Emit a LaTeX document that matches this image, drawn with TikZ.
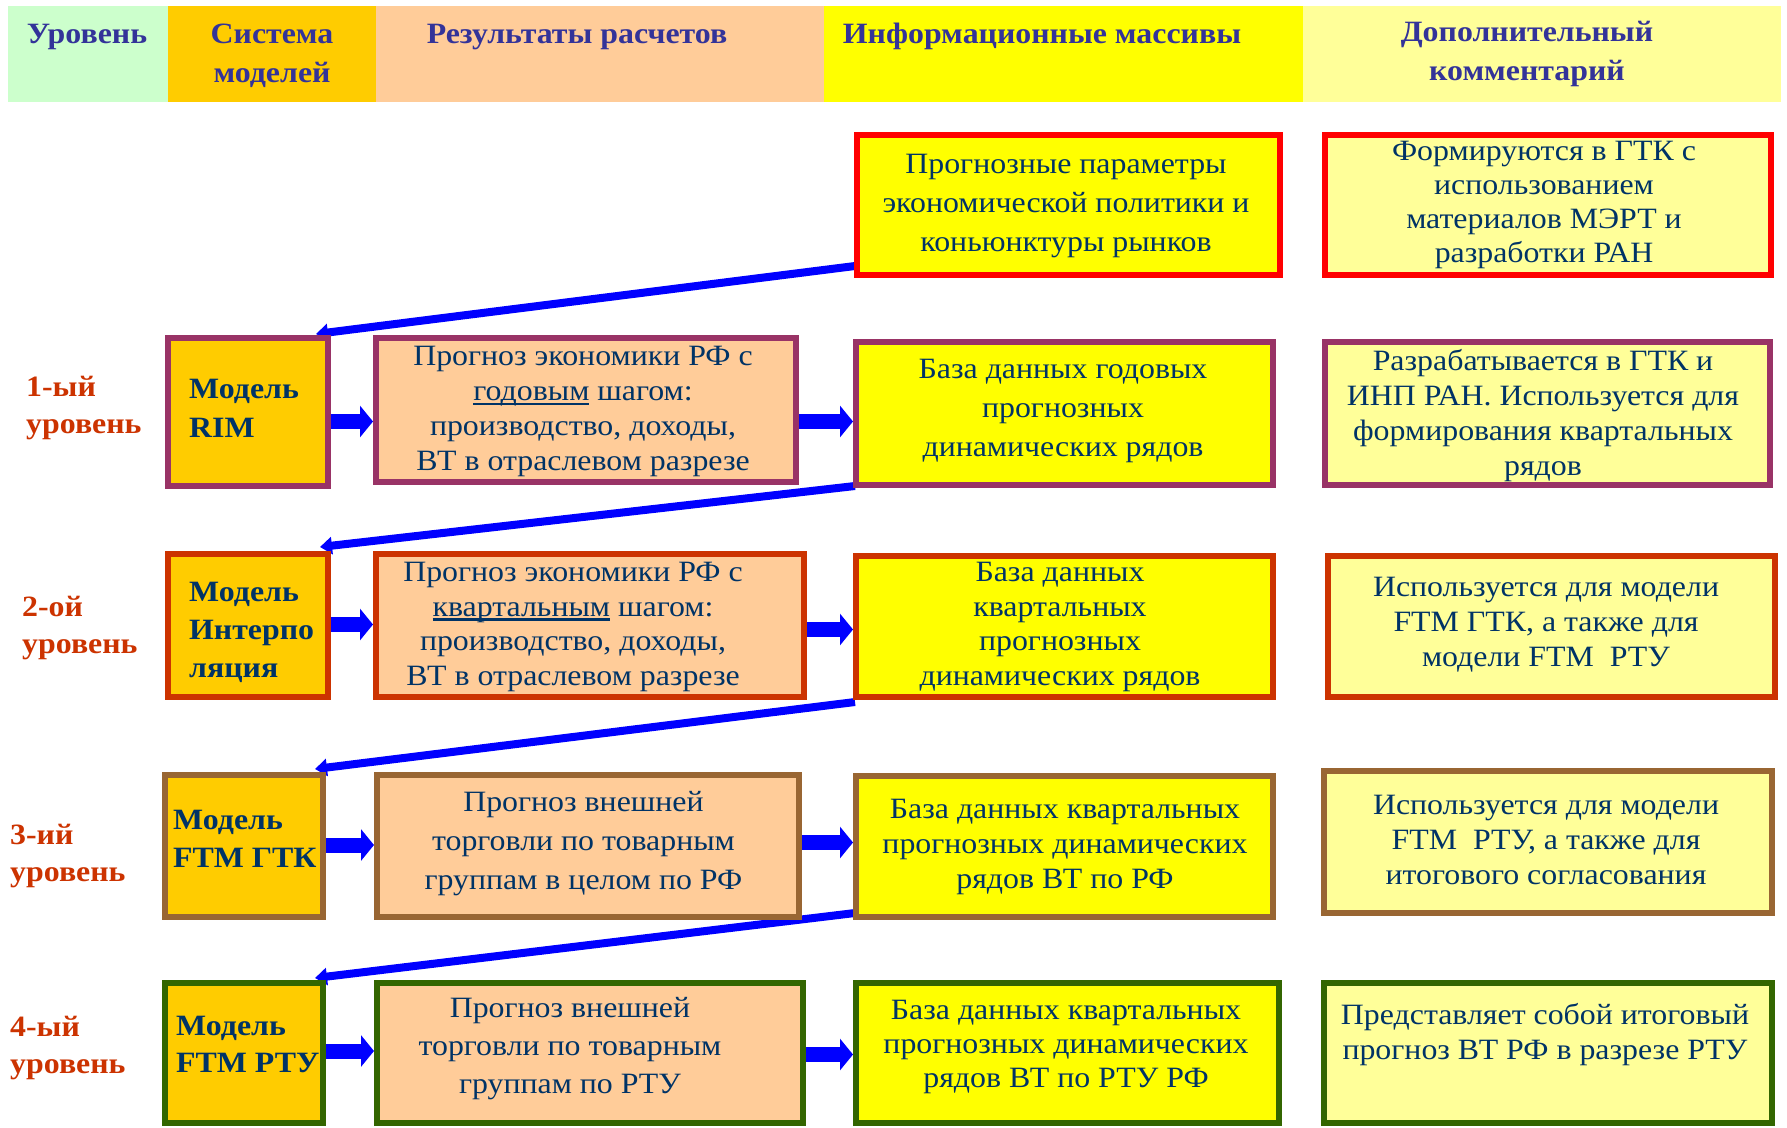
\documentclass[tikz,border=0pt]{standalone}
\usepackage{fontspec}
\setmainfont{Liberation Serif}[FakeStretch=1.08]
\usetikzlibrary{arrows.meta,backgrounds}
\definecolor{hdrtxt}{HTML}{333399}
\definecolor{bodytxt}{HTML}{003366}
\definecolor{lvltxt}{HTML}{CC3300}
\definecolor{cgreen}{HTML}{CCFFCC}
\definecolor{corange}{HTML}{FFCC00}
\definecolor{cpeach}{HTML}{FFCC99}
\definecolor{cyellow}{HTML}{FFFF00}
\definecolor{clight}{HTML}{FFFF99}
\definecolor{bred}{HTML}{FF0000}
\definecolor{bplum}{HTML}{993366}
\definecolor{brust}{HTML}{CC3300}
\definecolor{bbrown}{HTML}{996633}
\definecolor{bgreen}{HTML}{336600}
\definecolor{arrowblue}{HTML}{0000FF}
\newcommand\myul[1]{\setbox0\hbox{#1}\rlap{\rule[-4.5pt]{\wd0}{2.5pt}}\box0\relax}
\tikzset{
  cell/.style={draw=none, inner sep=0pt, outer sep=0pt},
  hdr/.style={font=\fontsize{29.5}{39}\selectfont\bfseries, text=hdrtxt, align=center, inner sep=0pt},
  box/.style={draw=#1, line width=6pt, inner sep=0pt},
  bt/.style={font=\fontsize{29.5}{#1}\selectfont, text=bodytxt, align=center, inner sep=0pt},
  bt/.default=35,
  mt/.style={font=\fontsize{29.5}{#1}\selectfont\bfseries, text=bodytxt, align=left, inner sep=0pt, anchor=west},
  mt/.default=38,
  lv/.style={font=\fontsize{29.5}{37}\selectfont\bfseries, text=lvltxt, align=left, inner sep=0pt, anchor=west},
  harrow/.style={draw=arrowblue, line width=15pt, -{Triangle[length=13pt,width=31pt]}},
  darrow/.style={draw=arrowblue, line width=8pt, -{Triangle[length=12pt,width=17pt]}}
}
\begin{document}
\begin{tikzpicture}[x=1pt,y=-1pt]
\useasboundingbox (0,0) rectangle (1787,1127);
% header cells
\node[cell, fill=cgreen,  minimum width=160pt, minimum height=96pt] (h1) at (88,54) {};
\node[cell, fill=corange, minimum width=208pt, minimum height=96pt] (h2) at (272,54) {};
\node[cell, fill=cpeach,  minimum width=448pt, minimum height=96pt] (h3) at (600,54) {};
\node[cell, fill=cyellow, minimum width=479pt, minimum height=96pt] (h4) at (1063.5,54) {};
\node[cell, fill=clight,  minimum width=478pt, minimum height=96pt] (h5) at (1542,54) {};
\node[hdr, anchor=base] (t1) at (87,43) {Уровень};
\node[hdr] (t2) at (272,56) {Система\\моделей};
\node[hdr, anchor=base] (t3) at (577,43) {Результаты расчетов};
\node[hdr, anchor=base] (t4) at (1042,43) {Информационные массивы};
\node[hdr] (t5) at (1527,54) {Дополнительный\\комментарий};

% row 0
\node[box=bred, fill=cyellow, minimum width=423pt, minimum height=140pt] (i0) at (1068.5,205) {};
\node[box=bred, fill=clight,  minimum width=446pt, minimum height=140pt] (c0) at (1548,205) {};
% row 1
\node[box=bplum, fill=corange, minimum width=160pt, minimum height=148pt] (m1) at (248,412) {};
\node[box=bplum, fill=cpeach,  minimum width=420pt, minimum height=144pt] (r1) at (586,410) {};
\node[box=bplum, fill=cyellow, minimum width=417pt, minimum height=143pt] (i1) at (1064.5,413.5) {};
\node[box=bplum, fill=clight,  minimum width=445pt, minimum height=143pt] (c1) at (1547.5,413.5) {};
% row 2
\node[box=brust, fill=corange, minimum width=160pt, minimum height=143pt] (m2) at (248,625.5) {};
\node[box=brust, fill=cpeach,  minimum width=428pt, minimum height=143pt] (r2) at (590,625.5) {};
\node[box=brust, fill=cyellow, minimum width=417pt, minimum height=141pt] (i2) at (1064.5,626.5) {};
\node[box=brust, fill=clight,  minimum width=447pt, minimum height=141pt] (c2) at (1551.5,626.5) {};
% row 3
\node[box=bbrown, fill=corange, minimum width=158pt, minimum height=142pt] (m3) at (244,846) {};
\node[box=bbrown, fill=cpeach,  minimum width=422pt, minimum height=142pt] (r3) at (588,846) {};
\node[box=bbrown, fill=cyellow, minimum width=417pt, minimum height=141pt] (i3) at (1064.5,846.5) {};
\node[box=bbrown, fill=clight,  minimum width=448pt, minimum height=142pt] (c3) at (1548,842) {};
% row 4
\node[box=bgreen, fill=corange, minimum width=158pt, minimum height=140pt] (m4) at (244,1053) {};
\node[box=bgreen, fill=cpeach,  minimum width=426pt, minimum height=140pt] (r4) at (590,1053) {};
\node[box=bgreen, fill=cyellow, minimum width=423pt, minimum height=140pt] (i4) at (1067.5,1053) {};
\node[box=bgreen, fill=clight,  minimum width=448pt, minimum height=140pt] (c4) at (1548,1053) {};

% level labels
\node[lv] (l1) at (26,408) {1-ый\\уровень};
\node[lv] (l2) at (22,628) {2-ой\\уровень};
\node[lv] (l3) at (10,856) {3-ий\\уровень};
\node[lv] (l4) at (10,1048) {4-ый\\уровень};

% model texts
\node[mt=39] (m1t) at (189,408) {Модель\\RIM};
\node[mt=38] (m2t) at (189,632) {Модель\\Интерпо\\ляция};
\node[mt=38] (m3t) at (173,838.5) {Модель\\FTM ГТК};
\node[mt=37] (m4t) at (176,1044) {Модель\\FTM РТУ};

% body texts
\node[bt=39] (i0t) at (1066,206) {Прогнозные параметры\\экономической политики и\\коньюнктуры рынков};
\node[bt=34] (c0t) at (1544,205) {Формируются в ГТК с\\использованием\\материалов МЭРТ и\\разработки РАН};
\node[bt=35] (r1t) at (583,411.5) {Прогноз экономики РФ с\\\myul{годовым} шагом:\\производство, доходы,\\ВТ в отраслевом разрезе};
\node[bt=39] (i1t) at (1063,411) {База данных годовых\\прогнозных\\динамических рядов};
\node[bt=35] (c1t) at (1543,416) {Разрабатывается в ГТК и\\ИНП РАН. Используется для\\формирования квартальных\\рядов};
\node[bt=34.5] (r2t) at (573,627) {Прогноз экономики РФ с\\\myul{квартальным} шагом:\\производство, доходы,\\ВТ в отраслевом разрезе};
\node[bt=34.5] (i2t) at (1060,627) {База данных\\квартальных\\прогнозных\\динамических рядов};
\node[bt=35] (c2t) at (1546,625) {Используется для модели\\FTM ГТК, а также для\\модели FTM~~РТУ};
\node[bt=39] (r3t) at (583.5,844) {Прогноз внешней\\торговли по товарным\\группам в целом по РФ};
\node[bt=35] (i3t) at (1065,847) {База данных квартальных\\прогнозных динамических\\рядов ВТ по РФ};
\node[bt=35] (c3t) at (1546,840) {Используется для модели\\FTM~~РТУ, а также для\\итогового согласования};
\node[bt=38] (r4t) at (570,1049) {Прогноз внешней\\торговли по товарным\\группам по РТУ};
\node[bt=34] (i4t) at (1066,1046.5) {База данных квартальных\\прогнозных динамических\\рядов ВТ по РТУ РФ};
\node[bt=35] (c4t) at (1545,1034.5) {Представляет собой итоговый\\прогноз ВТ РФ в разрезе РТУ};

% connectors
\begin{scope}[on background layer]
\fill[white] (0,0) rectangle (1787,1127);
\coordinate (a1) at ([yshift=-9.5pt]m1.east);
\coordinate (b1) at ([yshift=-11.5pt]r1.east);
\coordinate (a2) at ([yshift=1pt]m2.east);
\coordinate (b2) at ([yshift=-4pt]r2.east);
\coordinate (a3) at ([yshift=1pt]m3.east);
\coordinate (b3) at ([yshift=3.5pt]r3.east);
\coordinate (a4) at ([yshift=2pt]m4.east);
\coordinate (b4) at ([yshift=-1.5pt]r4.east);
\draw[harrow] (a1) -- (a1 -| r1.west);
\draw[harrow] (b1) -- (b1 -| i1.west);
\draw[harrow] (a2) -- (a2 -| r2.west);
\draw[harrow] (b2) -- (b2 -| i2.west);
\draw[harrow] (a3) -- (a3 -| r3.west);
\draw[harrow] (b3) -- (b3 -| i3.west);
\draw[harrow] (a4) -- (a4 -| r4.west);
\draw[harrow] (b4) -- (b4 -| i4.west);
\draw[darrow] ([xshift=1pt,yshift=12pt]i0.south west) -- ([xshift=-15pt,yshift=1pt]m1.north east);
\draw[darrow] ([xshift=2pt,yshift=2pt]i1.south west) -- ([xshift=-11pt,yshift=4pt]m2.north east);
\draw[darrow] ([xshift=2pt,yshift=-2pt]i2.south west) -- ([xshift=-11pt,yshift=3pt]m3.north east);
\draw[darrow] ([xshift=2pt,yshift=7pt]i3.south west) -- ([xshift=-11pt,yshift=2pt]m4.north east);
\end{scope}
\end{tikzpicture}
\end{document}
